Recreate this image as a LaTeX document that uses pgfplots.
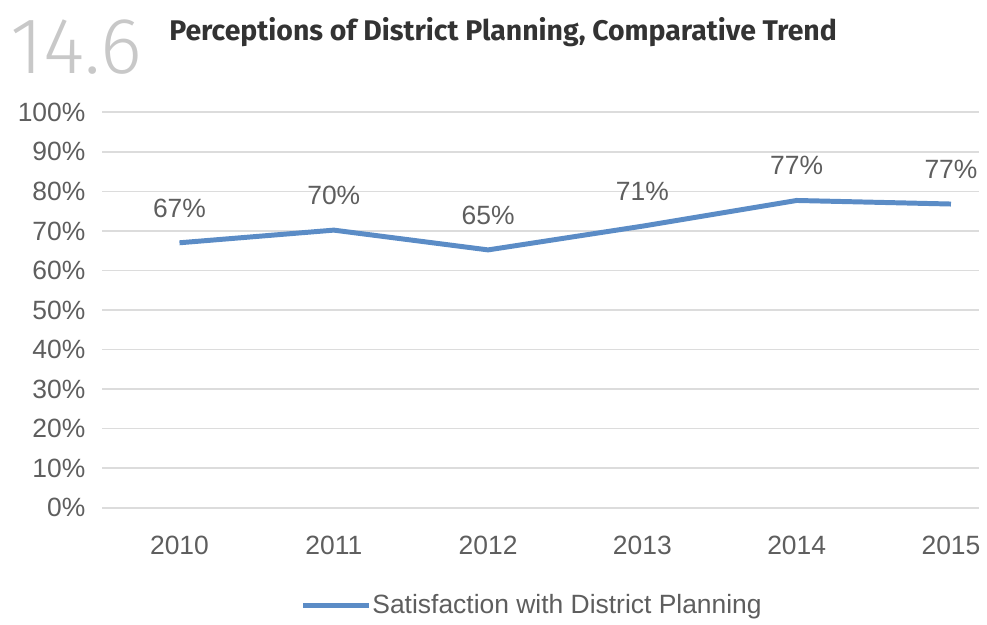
\documentclass[border=0pt]{standalone}
\usepackage{pgfplots}
\pgfplotsset{compat=1.18}
\usepackage{fontspec}
\setmainfont{Liberation Sans}
\newfontfamily\titlefont{Fira Sans}
\newfontfamily\lightfont{Fira Sans Light}
\definecolor{linec}{HTML}{5B8CC6}
\definecolor{txt}{HTML}{5E5E5E}
\definecolor{gridc}{HTML}{DCDCDC}
\definecolor{numc}{HTML}{C8C8C8}
\begin{document}
\begin{tikzpicture}[x=1pt,y=1pt]
\path (0,0) rectangle (493.5,312);
\node[anchor=base west, inner sep=0pt, text=numc] at (5,275) {\lightfont\fontsize{40}{44}\selectfont 14.6};
\node[anchor=base west, inner sep=0pt, text=black!80] at (85,291.5) {\titlefont\bfseries\fontsize{14.3}{16}\selectfont Perceptions of District Planning, Comparative Trend};
\begin{axis}[
  at={(51.5pt,56.5pt)}, anchor=south west,
  scale only axis, width=441pt, height=199pt,
  xmin=2009.5, xmax=2015.18, ymin=0, ymax=100,
  xtick={2010,2011,2012,2013,2014,2015},
  ytick={0,10,...,100},
  /pgf/number format/1000 sep={},
  /pgf/number format/assume math mode=true,
  yticklabel={\pgfmathprintnumber{\tick}\%},
  ymajorgrids, major grid style={gridc, line width=0.8pt},
  axis line style={draw=none}, major tick length=0pt,
  tick label style={font=\fontsize{13.3}{15}\selectfont, text=txt},
  yticklabel style={xshift=-5pt},
  xticklabel style={yshift=-10.5pt},
  point meta=explicit symbolic,
  nodes near coords={\pgfplotspointmeta\%},
  every node near coord/.append style={anchor=center, yshift=17.5pt, font=\fontsize{13.3}{15}\selectfont, text=txt},
  legend style={at={(0.49,-0.246)}, anchor=center, draw=none, font=\fontsize{13.3}{15}\selectfont, text=txt, nodes={inner xsep=0.5pt}},
  legend image code/.code={\draw[#1, line width=2.5pt] (0,0) -- (33pt,0);},
]
\addplot[linec, line width=2.5pt, mark=none] coordinates {
  (2010,67.0) [67]
  (2011,70.2) [70]
  (2012,65.2) [65]
  (2013,71.2) [71]
  (2014,77.7) [77]
  (2015,76.8) [77]
};
\addlegendentry{Satisfaction with District Planning}
\end{axis}
\end{tikzpicture}
\end{document}
